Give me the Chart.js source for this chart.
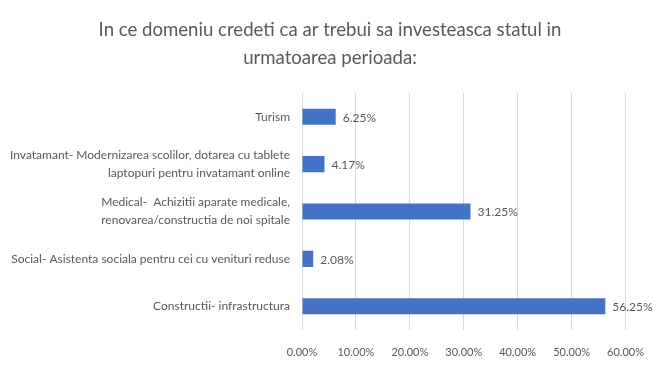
<!DOCTYPE html>
<html>
<head>
<meta charset="utf-8">
<script src="https://cdn.jsdelivr.net/npm/chart.js@4/dist/chart.umd.min.js"></script>
<style>
html,body{margin:0;padding:0;background:#fff;}
#wrap{width:660px;height:370px;position:relative;}
</style>
</head>
<body>
<div id="wrap"><canvas id="c" width="660" height="370"></canvas></div>
<script>
const titleLines = ['In ce domeniu credeti ca ar trebui sa investeasca statul in', 'urmatoarea perioada:'];
const categories = [
  'Turism',
  ['Invatamant- Modernizarea scolilor, dotarea cu tablete', 'laptopuri pentru invatamant online'],
  ['Medical-  Achizitii aparate medicale,', 'renovarea/constructia de noi spitale'],
  'Social- Asistenta sociala pentru cei cu venituri reduse',
  'Constructii- infrastructura'
];
const values = [6.25, 4.17, 31.25, 2.08, 56.25];
const valueLabels = ['6.25%', '4.17%', '31.25%', '2.08%', '56.25%'];
const xTickLabels = ['0.00%', '10.00%', '20.00%', '30.00%', '40.00%', '50.00%', '60.00%'];

const FONT = 'Lato, "Open Sans", sans-serif';
const TXT = '#595959';

const dataLabelPlugin = {
  id: 'dataLabels',
  afterDatasetsDraw(chart) {
    const ctx = chart.ctx;
    const meta = chart.getDatasetMeta(0);
    ctx.save();
    ctx.font = '12px ' + FONT;
    ctx.fillStyle = TXT;
    ctx.textAlign = 'left';
    ctx.textBaseline = 'middle';
    meta.data.forEach((bar, i) => {
      ctx.fillText(valueLabels[i], bar.x + 7, bar.y + 1);
    });
    ctx.restore();
  }
};

const centeredTitlePlugin = {
  id: 'centeredTitle',
  afterDraw(chart) {
    const ctx = chart.ctx;
    ctx.save();
    ctx.font = '18.6px ' + FONT;
    ctx.fillStyle = TXT;
    ctx.textAlign = 'center';
    ctx.textBaseline = 'middle';
    titleLines.forEach((t, i) => {
      ctx.fillText(t, chart.width / 2, 30 + i * 28);
    });
    ctx.restore();
  }
};

new Chart(document.getElementById('c'), {
  type: 'bar',
  data: {
    labels: categories,
    datasets: [{
      data: values,
      backgroundColor: '#4472c4',
      borderWidth: 0,
      barPercentage: 0.34,
      categoryPercentage: 1
    }]
  },
  options: {
    indexAxis: 'y',
    responsive: false,
    animation: false,
    devicePixelRatio: 1,
    layout: { padding: { left: 0, right: 34, top: 93, bottom: 0 } },
    plugins: {
      legend: { display: false },
      tooltip: { enabled: false },
      title: { display: false }
    },
    scales: {
      x: {
        min: 0,
        max: 60,
        ticks: {
          stepSize: 10,
          color: TXT,
          font: { family: FONT, size: 11 },
          padding: 16,
          maxRotation: 0,
          callback: (v, i) => xTickLabels[i]
        },
        grid: { color: '#d9d9d9', drawTicks: false, lineWidth: 1 },
        border: { display: false },
        afterFit: (s) => { s.height = 40; }
      },
      y: {
        ticks: {
          color: TXT,
          font: { family: FONT, size: 12, lineHeight: 1.5 },
          padding: 12,
          autoSkip: false
        },
        grid: { display: false, drawTicks: false },
        border: { display: false },
        afterFit: (s) => { s.width = 302; }
      }
    }
  },
  plugins: [dataLabelPlugin, centeredTitlePlugin]
});
</script>
</body>
</html>
